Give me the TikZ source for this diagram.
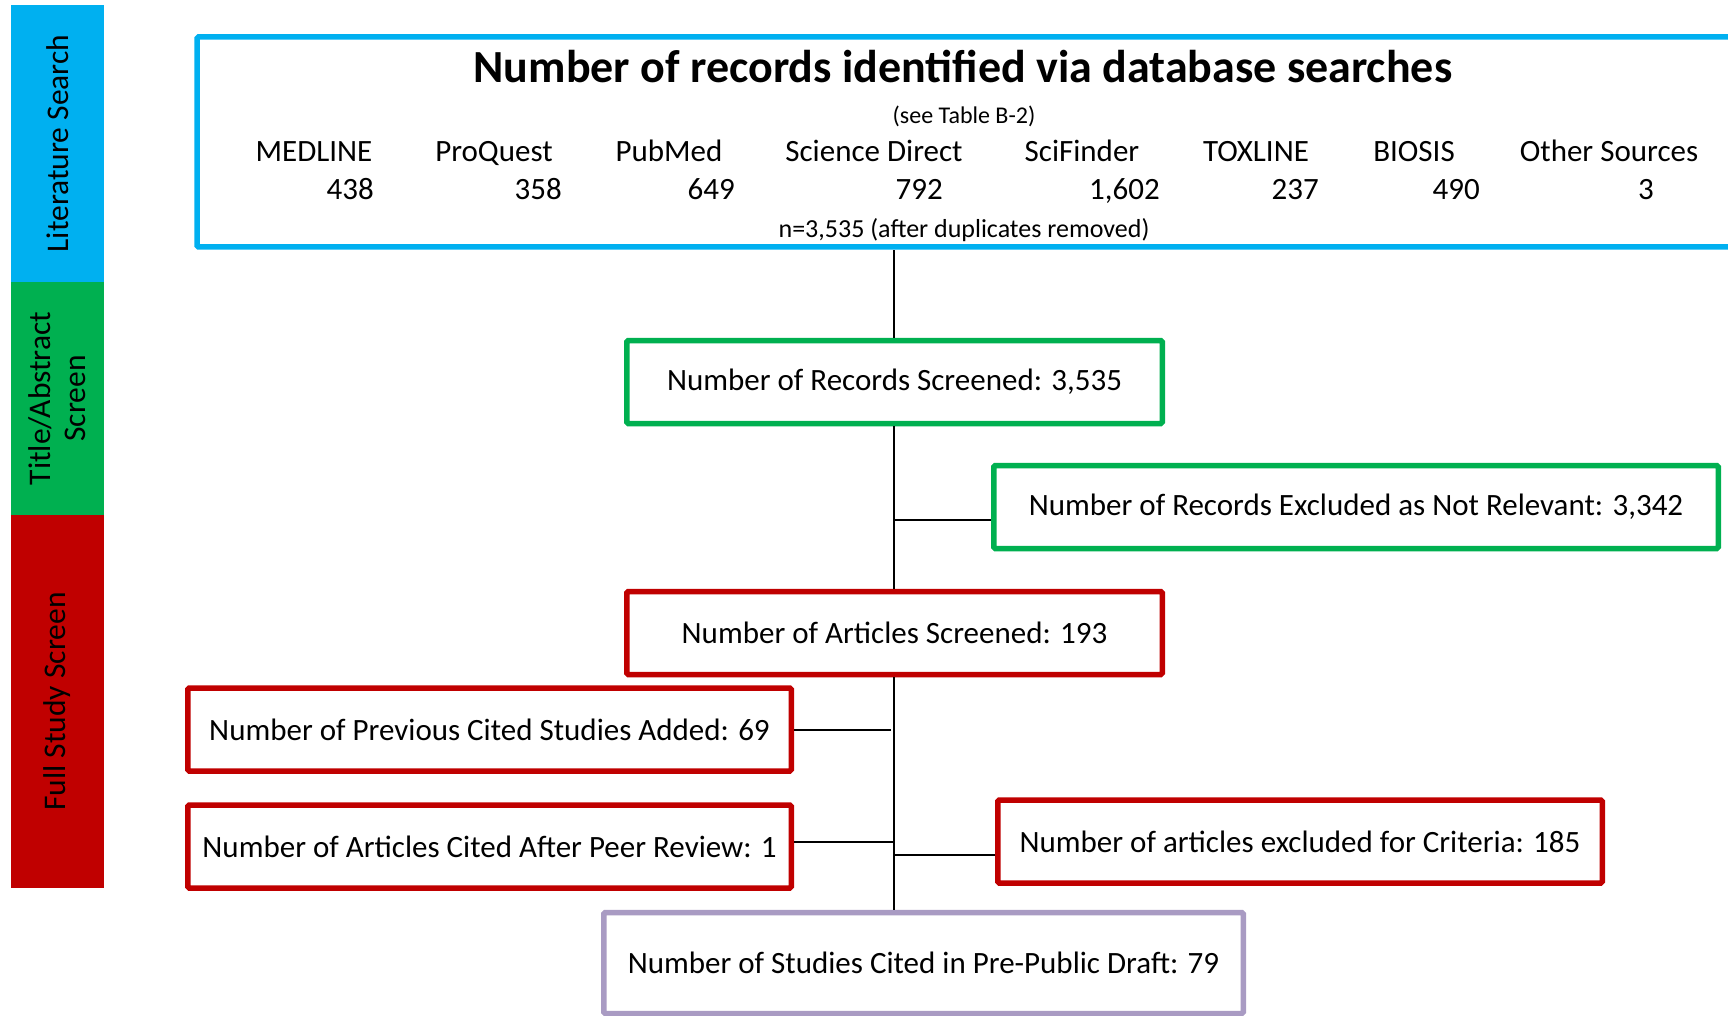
\documentclass[tikz,border=0pt]{standalone}
\usepackage{fontspec}
\setmainfont{Carlito}
\definecolor{lsblue}{HTML}{00B0F0}
\definecolor{tagreen}{HTML}{00B050}
\definecolor{fsred}{HTML}{C00000}
\definecolor{draftpurple}{HTML}{A99BC3}
\begin{document}
\begin{tikzpicture}[x=1pt,y=-1pt,
  stage/.style={draw, line width=5.5pt, rounded corners=1.5pt, fill=white,
    inner sep=0pt, font=\fontsize{31}{37}\selectfont},
  band/.style={rotate=90, inner sep=0pt, align=center, text=black,
    font=\fontsize{31.5}{35}\selectfont},
  db/.style={anchor=base, inner sep=0pt, font=\fontsize{31}{37}\selectfont},
  count/.style={anchor=base east, inner sep=0pt, font=\fontsize{31}{37}\selectfont},
  link/.style={line width=1.6pt, black}]
\useasboundingbox (0,0) rectangle (1728,1016);

% phase bands on the left
\node[band, fill=lsblue, minimum width=277pt, minimum height=93pt] (bandA) at (57.5,143.5) {Literature Search};
\node[band, fill=tagreen, minimum width=233pt, minimum height=93pt] (bandB) at (57.5,398.5) {Title/Abstract\\Screen};
\node[band, fill=fsred, minimum width=373pt, minimum height=93pt] (bandC) at (57.5,701.5) {Full Study Screen};

% database search box
\node[stage, draw=lsblue, minimum width=1546pt, minimum height=210pt] (search) at (970,142) {};
\node[anchor=base, inner sep=0pt, font=\fontsize{46}{54}\selectfont\bfseries] (title) at (963,83) {Number of records identified via database searches};
\node[anchor=base, inner sep=0pt, font=\fontsize{24}{28}\selectfont] (tabref) at (964,124) {(see Table B-2)};

\node[db] (d1) at (314,162) {MEDLINE};
\node[db] (d2) at (494,162) {ProQuest};
\node[db] (d3) at (669,162) {PubMed};
\node[db] (d4) at (874,162) {Science Direct};
\node[db] (d5) at (1082,162) {SciFinder};
\node[db] (d6) at (1256,162) {TOXLINE};
\node[db] (d7) at (1414,162) {BIOSIS};
\node[db] (d8) at (1609,162) {Other Sources};

\node[count] (c1) at (374,200) {438};
\node[count] (c2) at (562,200) {358};
\node[count] (c3) at (735,200) {649};
\node[count] (c4) at (943,200) {792};
\node[count] (c5) at (1160,200) {1,602};
\node[count] (c6) at (1319,200) {237};
\node[count] (c7) at (1480,200) {490};
\node[count] (c8) at (1654,200) {3};

\node[anchor=base, inner sep=0pt, font=\fontsize{26}{31}\selectfont] (total) at (964,237) {n=3,535 (after duplicates removed)};

% screening boxes
\node[stage, draw=tagreen, minimum width=535.5pt, minimum height=83pt] (rec) at (894.5,382) {Number of Records Screened: 3,535};
\node[stage, draw=tagreen, minimum width=724.5pt, minimum height=83pt] (excl) at (1356,507) {Number of Records Excluded as Not Relevant: 3,342};
\node[stage, draw=fsred, minimum width=535.5pt, minimum height=83pt] (art) at (894.5,633) {Number of Articles Screened: 193};
\node[stage, draw=fsred, minimum width=603.5pt, minimum height=83pt] (prev) at (489.5,729.5) {Number of Previous Cited Studies Added: 69};
\node[stage, draw=fsred, minimum width=603.5pt, minimum height=83pt] (peer) at (489.5,846.5) {Number of Articles Cited After Peer Review: 1};
\node[stage, draw=fsred, minimum width=604.5pt, minimum height=83pt] (crit) at (1300,841.5) {Number of articles excluded for Criteria: 185};
\node[stage, draw=draftpurple, minimum width=639.5pt, minimum height=101pt] (draft) at (923.5,963) {Number of Studies Cited in Pre-Public Draft: 79};

% junction points on the spine
\coordinate (jx) at (894,520);
\coordinate (jp) at (891,730);
\coordinate (jq) at (894,842);
\coordinate (jc) at (894,855);

% connectors
\draw[link] (rec.north -| jx) -- (search.south -| jx);
\draw[link] (rec.south -| jx) -- (art.north -| jx);
\draw[link] (jx) -- (jx -| excl.west);
\draw[link] (art.south -| jx) -- (draft.north -| jx);
\draw[link] (prev.east |- jp) -- (jp);
\draw[link] (peer.east |- jq) -- (jq);
\draw[link] (jc) -- (jc -| crit.west);
\end{tikzpicture}
\end{document}
